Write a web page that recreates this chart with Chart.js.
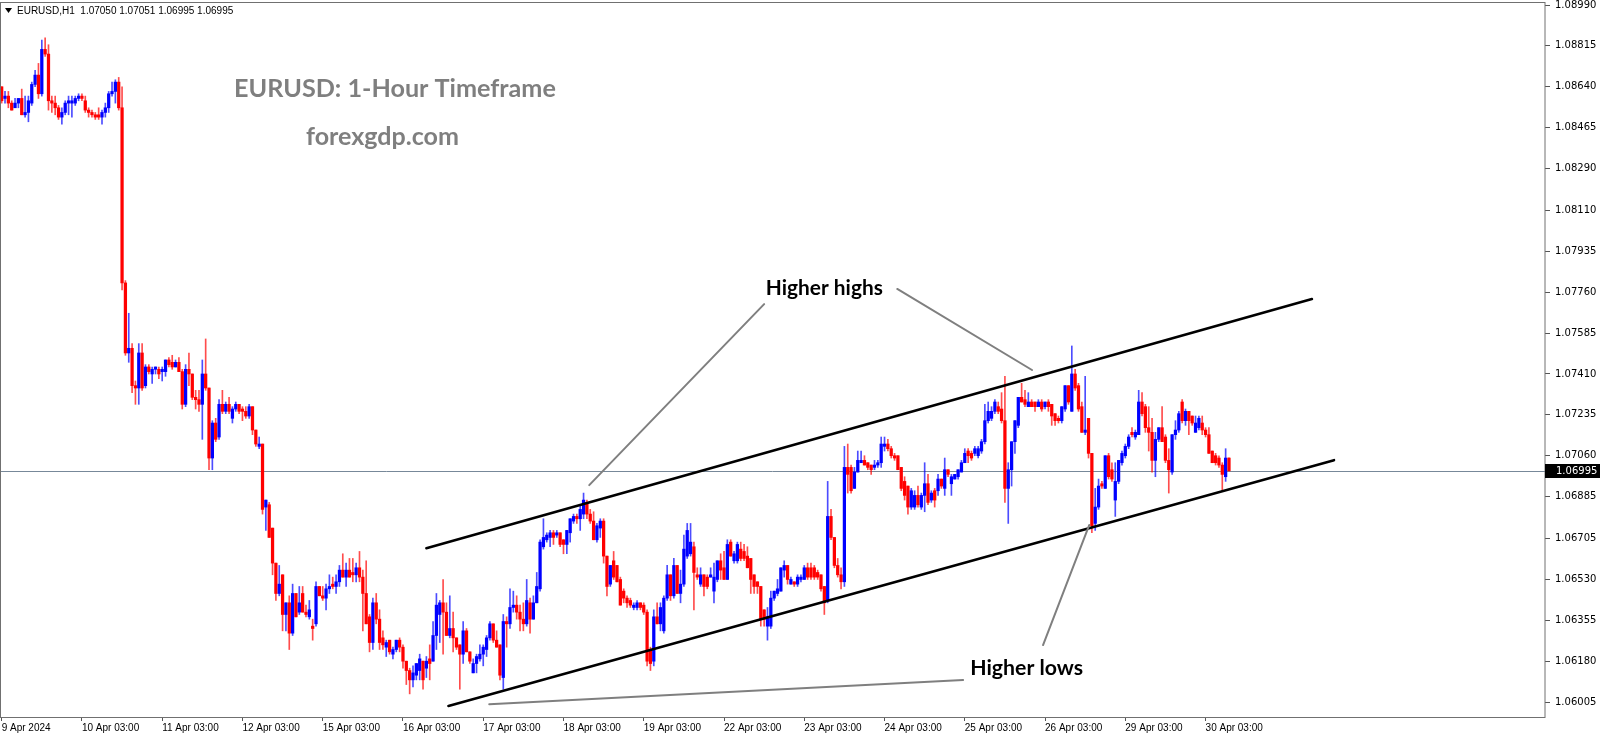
<!DOCTYPE html>
<html>
<head>
<meta charset="utf-8">
<script src="https://cdn.jsdelivr.net/npm/chart.js@4.4.1/dist/chart.umd.min.js"></script>
<style>
  html, body { margin: 0; padding: 0; background: #ffffff; }
  canvas { display: block; }
</style>
</head>
<body>
<canvas id="eurusdChart" width="1600" height="738"></canvas>
<script>
// EURUSD H1, 9 Apr 03:00 -> 30 Apr 10:00 (one value per hourly bar)
var opens = [
  1.0864,1.0859,1.0860,1.0857,1.0855,1.0857,1.0859,1.0852,1.0853,1.0857,1.0865,1.0869,
  1.0861,1.0880,1.0878,1.0858,1.0857,1.0855,1.0851,1.0853,1.0857,1.0857,1.0857,1.0859,
  1.0860,1.0858,1.0854,1.0853,1.0852,1.0852,1.0851,1.0853,1.0855,1.0861,1.0862,1.0866,
  1.0855,1.0780,1.0750,1.0752,1.0736,1.0735,1.0750,1.0736,1.0744,1.0741,1.0743,1.0743,
  1.0742,1.0742,1.0747,1.0746,1.0744,1.0746,1.0742,1.0728,1.0743,1.0741,1.0731,1.0730,
  1.0728,1.0741,1.0735,1.0705,1.0720,1.0714,1.0728,1.0725,1.0728,1.0722,1.0726,1.0728,
  1.0726,1.0725,1.0723,1.0727,1.0717,1.0710,1.0711,1.0684,1.0685,1.0675,1.0660,1.0647,
  1.0655,1.0638,1.0643,1.0630,1.0647,1.0639,1.0647,1.0639,1.0637,1.0633,1.0634,1.0650,
  1.0646,1.0645,1.0649,1.0651,1.0650,1.0652,1.0657,1.0654,1.0657,1.0656,1.0655,1.0658,
  1.0654,1.0647,1.0637,1.0626,1.0643,1.0636,1.0628,1.0624,1.0627,1.0621,1.0623,1.0627,
  1.0624,1.0618,1.0614,1.0610,1.0612,1.0614,1.0618,1.0615,1.0619,1.0618,1.0629,1.0638,
  1.0643,1.0639,1.0629,1.0632,1.0628,1.0625,1.0621,1.0631,1.0622,1.0613,1.0617,1.0619,
  1.0621,1.0623,1.0628,1.0634,1.0627,1.0625,1.0611,1.0635,1.0634,1.0641,1.0642,1.0639,
  1.0636,1.0634,1.0643,1.0636,1.0643,1.0649,1.0667,1.0670,1.0671,1.0673,1.0672,1.0673,
  1.0670,1.0668,1.0673,1.0678,1.0680,1.0679,1.0681,1.0686,1.0681,1.0678,1.0670,1.0675,
  1.0678,1.0663,1.0651,1.0661,1.0659,1.0653,1.0648,1.0645,1.0644,1.0641,1.0641,1.0643,
  1.0642,1.0639,1.0623,1.0618,1.0637,1.0634,1.0631,1.0645,1.0655,1.0646,1.0659,1.0647,
  1.0651,1.0663,1.0664,1.0667,1.0655,1.0651,1.0655,1.0654,1.0654,1.0648,1.0653,1.0661,
  1.0658,1.0653,1.0669,1.0661,1.0661,1.0666,1.0665,1.0663,1.0662,1.0655,1.0652,1.0650,
  1.0640,1.0633,1.0633,1.0645,1.0647,1.0648,1.0657,1.0659,1.0651,1.0652,1.0651,1.0653,
  1.0653,1.0658,1.0658,1.0658,1.0656,1.0655,1.0650,1.0644,1.0680,1.0671,1.0659,1.0655,
  1.0652,1.0701,1.0701,1.0692,1.0699,1.0703,1.0704,1.0703,1.0702,1.0701,1.0702,1.0703,
  1.0710,1.0711,1.0709,1.0706,1.0706,1.0701,1.0695,1.0693,1.0684,1.0684,1.0689,1.0684,
  1.0689,1.0694,1.0687,1.0691,1.0691,1.0696,1.0692,1.0700,1.0694,1.0696,1.0697,1.0699,
  1.0703,1.0708,1.0707,1.0707,1.0706,1.0708,1.0712,1.0721,1.0722,1.0725,1.0727,1.0726,
  1.0721,1.0692,1.0700,1.0712,1.0719,1.0731,1.0730,1.0727,1.0729,1.0729,1.0727,1.0729,
  1.0727,1.0729,1.0728,1.0724,1.0722,1.0721,1.0726,1.0736,1.0725,1.0741,1.0736,1.0727,
  1.0716,1.0722,1.0707,1.0677,1.0684,1.0694,1.0692,1.0706,1.0700,1.0687,1.0695,1.0703,
  1.0706,1.0710,1.0716,1.0714,1.0715,1.0729,1.0727,1.0718,1.0716,1.0704,1.0713,1.0718,
  1.0714,1.0704,1.0699,1.0715,1.0717,1.0729,1.0721,1.0725,1.0723,1.0716,1.0718,1.0720,
  1.0717,1.0715,1.0708,1.0706,1.0705,1.0702,1.0697,1.07050
];
var highs = [
  1.0864,1.0862,1.0862,1.0858,1.0859,1.0859,1.0863,1.0860,1.0860,1.0866,1.0871,1.0874,
  1.0884,1.0885,1.0882,1.0860,1.0860,1.0856,1.0855,1.0858,1.0860,1.0860,1.0860,1.0861,
  1.0861,1.0860,1.0855,1.0854,1.0853,1.0855,1.0854,1.0857,1.0862,1.0866,1.0867,1.0868,
  1.0864,1.0781,1.0767,1.0754,1.0738,1.0754,1.0754,1.0745,1.0745,1.0744,1.0744,1.0744,
  1.0744,1.0747,1.0748,1.0749,1.0747,1.0748,1.0743,1.0745,1.0750,1.0741,1.0734,1.0734,
  1.0747,1.0756,1.0735,1.0721,1.0722,1.0730,1.0734,1.0729,1.0731,1.0727,1.0729,1.0728,
  1.0727,1.0727,1.0728,1.0727,1.0717,1.0714,1.0711,1.0687,1.0686,1.0675,1.0660,1.0659,
  1.0655,1.0643,1.0646,1.0651,1.0647,1.0650,1.0650,1.0642,1.0644,1.0636,1.0652,1.0650,
  1.0650,1.0651,1.0655,1.0654,1.0655,1.0659,1.0664,1.0660,1.0662,1.0662,1.0660,1.0665,
  1.0657,1.0661,1.0638,1.0645,1.0647,1.0640,1.0631,1.0627,1.0627,1.0624,1.0627,1.0628,
  1.0625,1.0618,1.0615,1.0616,1.0617,1.0621,1.0618,1.0620,1.0625,1.0635,1.0647,1.0644,
  1.0653,1.0643,1.0646,1.0639,1.0628,1.0625,1.0635,1.0632,1.0622,1.0619,1.0621,1.0625,
  1.0625,1.0629,1.0635,1.0634,1.0631,1.0625,1.0638,1.0637,1.0649,1.0648,1.0646,1.0642,
  1.0643,1.0653,1.0645,1.0646,1.0656,1.0670,1.0679,1.0673,1.0674,1.0674,1.0674,1.0673,
  1.0670,1.0674,1.0679,1.0681,1.0681,1.0685,1.0690,1.0687,1.0683,1.0682,1.0677,1.0679,
  1.0679,1.0663,1.0659,1.0665,1.0659,1.0654,1.0649,1.0646,1.0645,1.0643,1.0644,1.0643,
  1.0643,1.0640,1.0624,1.0640,1.0643,1.0643,1.0646,1.0659,1.0655,1.0662,1.0659,1.0657,
  1.0672,1.0677,1.0677,1.0669,1.0658,1.0658,1.0655,1.0655,1.0658,1.0660,1.0661,1.0664,
  1.0665,1.0670,1.0670,1.0665,1.0669,1.0669,1.0668,1.0667,1.0662,1.0655,1.0652,1.0650,
  1.0640,1.0641,1.0648,1.0648,1.0653,1.0658,1.0661,1.0659,1.0654,1.0652,1.0655,1.0655,
  1.0659,1.0660,1.0660,1.0659,1.0657,1.0655,1.0650,1.0695,1.0683,1.0671,1.0662,1.0658,
  1.0710,1.0711,1.0702,1.0701,1.0708,1.0708,1.0706,1.0703,1.0702,1.0704,1.0704,1.0714,
  1.0714,1.0713,1.0710,1.0707,1.0706,1.0701,1.0697,1.0693,1.0692,1.0691,1.0693,1.0690,
  1.0703,1.0698,1.0691,1.0692,1.0698,1.0696,1.0705,1.0700,1.0698,1.0698,1.0700,1.0704,
  1.0709,1.0709,1.0708,1.0710,1.0710,1.0713,1.0728,1.0729,1.0727,1.0730,1.0729,1.0733,
  1.0740,1.0703,1.0712,1.0721,1.0731,1.0737,1.0734,1.0733,1.0730,1.0729,1.0730,1.0730,
  1.0729,1.0730,1.0728,1.0724,1.0723,1.0727,1.0736,1.0736,1.0753,1.0743,1.0737,1.0729,
  1.0740,1.0722,1.0707,1.0692,1.0696,1.0695,1.0706,1.0707,1.0703,1.0703,1.0704,1.0708,
  1.0711,1.0715,1.0718,1.0717,1.0734,1.0733,1.0728,1.0727,1.0722,1.0716,1.0718,1.0727,
  1.0715,1.0709,1.0715,1.0721,1.0725,1.0730,1.0726,1.0725,1.0723,1.0723,1.0723,1.0723,
  1.0718,1.0718,1.0708,1.0707,1.0706,1.0703,1.0709,1.07051
];
var lows = [
  1.0857,1.0857,1.0855,1.0854,1.0855,1.0855,1.0852,1.0851,1.0849,1.0856,1.0864,1.0859,
  1.0860,1.0877,1.0854,1.0853,1.0852,1.0850,1.0848,1.0852,1.0852,1.0851,1.0856,1.0858,
  1.0858,1.0853,1.0851,1.0851,1.0850,1.0850,1.0848,1.0851,1.0853,1.0860,1.0857,1.0854,
  1.0777,1.0749,1.0746,1.0733,1.0728,1.0728,1.0734,1.0735,1.0741,1.0737,1.0741,1.0739,
  1.0738,1.0740,1.0744,1.0743,1.0744,1.0742,1.0726,1.0727,1.0736,1.0730,1.0726,1.0725,
  1.0713,1.0734,1.0700,1.0700,1.0712,1.0713,1.0724,1.0724,1.0724,1.0720,1.0725,1.0724,
  1.0721,1.0722,1.0722,1.0715,1.0710,1.0709,1.0681,1.0674,1.0671,1.0655,1.0644,1.0646,
  1.0631,1.0631,1.0623,1.0629,1.0637,1.0638,1.0639,1.0637,1.0636,1.0627,1.0633,1.0646,
  1.0644,1.0640,1.0647,1.0649,1.0647,1.0650,1.0654,1.0650,1.0654,1.0652,1.0652,1.0652,
  1.0631,1.0634,1.0622,1.0623,1.0634,1.0623,1.0623,1.0620,1.0621,1.0619,1.0622,1.0622,
  1.0615,1.0608,1.0604,1.0607,1.0610,1.0610,1.0606,1.0611,1.0610,1.0618,1.0623,1.0626,
  1.0621,1.0629,1.0628,1.0622,1.0623,1.0606,1.0617,1.0622,1.0617,1.0613,1.0613,1.0618,
  1.0616,1.0620,1.0627,1.0626,1.0624,1.0610,1.0606,1.0624,1.0632,1.0639,1.0636,1.0631,
  1.0631,1.0633,1.0630,1.0636,1.0643,1.0648,1.0666,1.0669,1.0667,1.0668,1.0671,1.0667,
  1.0664,1.0664,1.0669,1.0677,1.0677,1.0674,1.0679,1.0679,1.0677,1.0670,1.0669,1.0671,
  1.0660,1.0646,1.0650,1.0653,1.0652,1.0642,1.0643,1.0641,1.0641,1.0640,1.0640,1.0640,
  1.0638,1.0616,1.0614,1.0616,1.0634,1.0631,1.0630,1.0644,1.0644,1.0645,1.0647,1.0643,
  1.0650,1.0662,1.0663,1.0640,1.0653,1.0650,1.0646,1.0649,1.0654,1.0643,1.0652,1.0653,
  1.0653,1.0653,1.0663,1.0660,1.0660,1.0661,1.0661,1.0658,1.0647,1.0647,1.0647,1.0633,
  1.0633,1.0627,1.0632,1.0644,1.0646,1.0648,1.0654,1.0651,1.0651,1.0650,1.0650,1.0652,
  1.0653,1.0653,1.0653,1.0653,1.0653,1.0648,1.0638,1.0643,1.0670,1.0658,1.0654,1.0649,
  1.0650,1.0690,1.0690,1.0692,1.0699,1.0703,1.0702,1.0700,1.0698,1.0700,1.0701,1.0701,
  1.0708,1.0708,1.0705,1.0704,1.0700,1.0691,1.0687,1.0681,1.0683,1.0683,1.0684,1.0683,
  1.0682,1.0685,1.0686,1.0684,1.0689,1.0692,1.0689,1.0697,1.0689,1.0696,1.0696,1.0699,
  1.0703,1.0703,1.0704,1.0706,1.0705,1.0707,1.0711,1.0720,1.0721,1.0724,1.0724,1.0720,
  1.0686,1.0677,1.0693,1.0707,1.0718,1.0729,1.0727,1.0727,1.0727,1.0725,1.0727,1.0725,
  1.0726,1.0725,1.0719,1.0719,1.0720,1.0720,1.0725,1.0728,1.0725,1.0734,1.0725,1.0716,
  1.0715,1.0705,1.0673,1.0674,1.0683,1.0692,1.0692,1.0696,1.0695,1.0680,1.0694,1.0702,
  1.0705,1.0709,1.0714,1.0713,1.0715,1.0723,1.0716,1.0708,1.0699,1.0697,1.0712,1.0712,
  1.0703,1.0690,1.0698,1.0713,1.0716,1.0720,1.0719,1.0715,1.0719,1.0716,1.0717,1.0715,
  1.0714,1.0707,1.0703,1.0702,1.0701,1.0691,1.0695,1.06995
];
var closes = [
  1.0858,1.0860,1.0857,1.0854,1.0857,1.0859,1.0852,1.0853,1.0858,1.0865,1.0869,1.0861,
  1.0880,1.0878,1.0858,1.0857,1.0855,1.0851,1.0853,1.0857,1.0858,1.0858,1.0859,1.0860,
  1.0859,1.0854,1.0853,1.0852,1.0851,1.0851,1.0853,1.0855,1.0861,1.0862,1.0866,1.0855,
  1.0780,1.0750,1.0752,1.0736,1.0735,1.0750,1.0735,1.0744,1.0742,1.0743,1.0744,1.0741,
  1.0743,1.0747,1.0745,1.0744,1.0746,1.0742,1.0728,1.0743,1.0741,1.0731,1.0730,1.0728,
  1.0741,1.0735,1.0705,1.0720,1.0713,1.0728,1.0725,1.0728,1.0725,1.0726,1.0728,1.0725,
  1.0725,1.0723,1.0727,1.0717,1.0711,1.0711,1.0683,1.0687,1.0671,1.0660,1.0647,1.0651,
  1.0638,1.0643,1.0630,1.0647,1.0637,1.0643,1.0639,1.0638,1.0640,1.0632,1.0650,1.0646,
  1.0645,1.0649,1.0650,1.0650,1.0652,1.0657,1.0654,1.0657,1.0654,1.0655,1.0658,1.0654,
  1.0647,1.0634,1.0626,1.0643,1.0636,1.0626,1.0625,1.0626,1.0622,1.0623,1.0627,1.0624,
  1.0618,1.0614,1.0610,1.0613,1.0617,1.0619,1.0610,1.0618,1.0617,1.0629,1.0642,1.0643,
  1.0639,1.0629,1.0632,1.0628,1.0624,1.0621,1.0631,1.0622,1.0618,1.0617,1.0620,1.0621,
  1.0624,1.0628,1.0634,1.0627,1.0624,1.0612,1.0635,1.0634,1.0641,1.0642,1.0639,1.0636,
  1.0634,1.0644,1.0636,1.0643,1.0650,1.0669,1.0671,1.0672,1.0673,1.0671,1.0673,1.0668,
  1.0668,1.0674,1.0679,1.0680,1.0679,1.0683,1.0687,1.0681,1.0678,1.0670,1.0676,1.0678,
  1.0663,1.0650,1.0659,1.0654,1.0652,1.0642,1.0645,1.0643,1.0642,1.0642,1.0643,1.0641,
  1.0639,1.0618,1.0617,1.0637,1.0634,1.0641,1.0645,1.0655,1.0646,1.0659,1.0647,1.0651,
  1.0666,1.0674,1.0669,1.0656,1.0654,1.0655,1.0650,1.0650,1.0655,1.0654,1.0661,1.0657,
  1.0653,1.0668,1.0663,1.0664,1.0668,1.0662,1.0662,1.0658,1.0653,1.0650,1.0650,1.0636,
  1.0636,1.0637,1.0645,1.0648,1.0649,1.0658,1.0659,1.0653,1.0653,1.0651,1.0654,1.0654,
  1.0658,1.0654,1.0654,1.0654,1.0654,1.0649,1.0643,1.0680,1.0671,1.0659,1.0655,1.0652,
  1.0701,1.0698,1.0691,1.0699,1.0704,1.0704,1.0702,1.0701,1.0700,1.0702,1.0703,1.0711,
  1.0711,1.0709,1.0706,1.0705,1.0700,1.0692,1.0689,1.0684,1.0691,1.0689,1.0685,1.0689,
  1.0694,1.0686,1.0690,1.0687,1.0696,1.0693,1.0700,1.0698,1.0697,1.0698,1.0700,1.0703,
  1.0707,1.0706,1.0705,1.0709,1.0709,1.0712,1.0721,1.0725,1.0725,1.0729,1.0725,1.0721,
  1.0692,1.0700,1.0712,1.0721,1.0731,1.0729,1.0728,1.0729,1.0727,1.0727,1.0729,1.0726,
  1.0729,1.0727,1.0723,1.0721,1.0721,1.0727,1.0736,1.0729,1.0741,1.0735,1.0726,1.0716,
  1.0717,1.0707,1.0676,1.0684,1.0693,1.0693,1.0706,1.0697,1.0696,1.0695,1.0704,1.0707,
  1.0710,1.0714,1.0715,1.0716,1.0729,1.0724,1.0718,1.0716,1.0704,1.0713,1.0718,1.0712,
  1.0704,1.0700,1.0715,1.0717,1.0724,1.0721,1.0725,1.0721,1.0720,1.0720,1.0722,1.0717,
  1.0715,1.0707,1.0703,1.0703,1.0702,1.0698,1.0705,1.06995
];

// bottom axis labels, one every 24 bars
var tickLabels = ["9 Apr 2024", "10 Apr 03:00", "11 Apr 03:00", "12 Apr 03:00", "15 Apr 03:00",
  "16 Apr 03:00", "17 Apr 03:00", "18 Apr 03:00", "19 Apr 03:00", "22 Apr 03:00", "23 Apr 03:00",
  "24 Apr 03:00", "25 Apr 03:00", "26 Apr 03:00", "29 Apr 03:00", "30 Apr 03:00"];
var priceTicks = [1.08990, 1.08815, 1.08640, 1.08465, 1.08290, 1.08110, 1.07935, 1.07760, 1.07585,
  1.07410, 1.07235, 1.07060, 1.06885, 1.06705, 1.06530, 1.06355, 1.06180, 1.06005];

// drawn objects, in (bar index, price)
var channelLines = [
  [127.0, 1.06664, 391.8, 1.07731],
  [133.6, 1.05988, 398.4, 1.07041]
];
var pointerLines = [
  [228.0, 1.07709, 175.7, 1.06934],
  [267.8, 1.07774, 308.1, 1.07427],
  [311.4, 1.06249, 325.2, 1.06763],
  [287.5, 1.06099, 145.8, 1.05996]
];
var notes = [
  {text: "Higher highs", bar: 246.0, price: 1.07748, width: 117},
  {text: "Higher lows", bar: 306.5, price: 1.06120, width: 113}
];

var barsPerLabel = 24;
var totalSlots = 462; // chart shifted: empty space right of last bar
var slotLabels = [];
for (var i = 0; i < totalSlots; i++) {
  var k = i / barsPerLabel;
  slotLabels.push(i % barsPerLabel === 0 && k < tickLabels.length ? tickLabels[k] : "");
}

var bodies = [];
var wicks = [];
for (var i = 0; i < closes.length; i++) {
  bodies.push([opens[i], closes[i]]);
  wicks.push([lows[i], highs[i]]);
}
function isUp(i) { return closes[i] >= opens[i]; }

var last = closes.length - 1;
var bidPrice = closes[last];

function fitFont(ctx, text, weight, family, targetW) {
  ctx.font = weight + " 40px " + family;
  var w = ctx.measureText(text).width;
  var size = 40 * targetW / w;
  ctx.font = weight + " " + size.toFixed(2) + "px " + family;
}

const bgPlugin = {
    id: 'white_bg',
    beforeDraw: (chart) => {
        const {ctx} = chart;
        ctx.save();
        ctx.fillStyle = '#ffffff';
        ctx.fillRect(0, 0, chart.width, chart.height);
        ctx.restore();
    },
    beforeDatasetsDraw: (chart) => {
        const {ctx, chartArea, scales} = chart;
        const y = Math.round(scales.y.getPixelForValue(bidPrice)) + 0.5;
        ctx.save();
        ctx.strokeStyle = 'rgb(119,136,153)';
        ctx.lineWidth = 1;
        ctx.beginPath();
        ctx.moveTo(chartArea.left, y);
        ctx.lineTo(chartArea.right, y);
        ctx.stroke();
        ctx.restore();
    }
};

const drawingsPlugin = {
    id: 'drawings',
    afterDatasetsDraw: (chart) => {
        const {ctx, scales} = chart;
        const xs = scales.x, ys = scales.y;
        ctx.save();
        ctx.lineCap = 'round';
        ctx.strokeStyle = '#000000';
        ctx.lineWidth = 2.6;
        channelLines.forEach(function (l) {
            ctx.beginPath();
            ctx.moveTo(xs.getPixelForValue(l[0]), ys.getPixelForValue(l[1]));
            ctx.lineTo(xs.getPixelForValue(l[2]), ys.getPixelForValue(l[3]));
            ctx.stroke();
        });
        ctx.strokeStyle = '#7f7f7f';
        ctx.lineWidth = 2;
        pointerLines.forEach(function (l) {
            ctx.beginPath();
            ctx.moveTo(xs.getPixelForValue(l[0]), ys.getPixelForValue(l[1]));
            ctx.lineTo(xs.getPixelForValue(l[2]), ys.getPixelForValue(l[3]));
            ctx.stroke();
        });
        ctx.fillStyle = '#000000';
        ctx.textAlign = 'center';
        ctx.textBaseline = 'alphabetic';
        notes.forEach(function (n) {
            fitFont(ctx, n.text, 'bold', 'Lato', n.width);
            ctx.fillText(n.text, xs.getPixelForValue(n.bar), ys.getPixelForValue(n.price));
        });
        ctx.restore();
    },
    afterDraw: (chart) => {
        const {ctx, chartArea, scales} = chart;
        ctx.save();
        // frame
        ctx.strokeStyle = '#707070';
        ctx.lineWidth = 1;
        ctx.strokeRect(chartArea.left + 0.5, chartArea.top + 0.5,
            chartArea.right - chartArea.left - 0.5, chartArea.bottom - chartArea.top);

        // header line
        ctx.fillStyle = '#000000';
        ctx.beginPath();
        ctx.moveTo(5, 8); ctx.lineTo(12, 8); ctx.lineTo(8.5, 13); ctx.closePath();
        ctx.fill();
        ctx.font = '10px "Liberation Sans"';
        ctx.textBaseline = 'middle';
        ctx.textAlign = 'left';
        ctx.fillText('EURUSD,H1  ' + opens[last].toFixed(5) + ' ' + highs[last].toFixed(5) + ' ' +
            lows[last].toFixed(5) + ' ' + closes[last].toFixed(5), 17, 11);

        // titles
        ctx.fillStyle = '#7f7f7f';
        ctx.textBaseline = 'alphabetic';
        fitFont(ctx, 'EURUSD: 1-Hour Timeframe', 'bold', 'Lato', 322);
        ctx.fillText('EURUSD: 1-Hour Timeframe', 234, 97);
        fitFont(ctx, 'forexgdp.com', 'bold', 'Lato', 153);
        ctx.fillText('forexgdp.com', 306, 145);

        // bid price box
        const y = Math.round(scales.y.getPixelForValue(bidPrice));
        ctx.fillStyle = '#000000';
        ctx.fillRect(chartArea.right, y - 7, chart.width - chartArea.right, 14);
        ctx.fillStyle = '#ffffff';
        ctx.font = '10px "DejaVu Sans"';
        ctx.textBaseline = 'middle';
        ctx.fillText(bidPrice.toFixed(5), chartArea.right + 11, y + 0.5);
        ctx.restore();
    }
};

new Chart("eurusdChart", {
    type: "bar",
    plugins: [bgPlugin, drawingsPlugin],
    data: {
        labels: slotLabels,
        datasets: [{
            label: "body",
            data: bodies,
            order: 0,
            grouped: false,
            barThickness: 2.6,
            minBarLength: 1,
            backgroundColor: (c) => isUp(c.dataIndex) ? '#0000ff' : '#ff0000',
            borderWidth: 0
        }, {
            label: "wick",
            data: wicks,
            order: 1,
            grouped: false,
            barThickness: 1,
            backgroundColor: (c) => isUp(c.dataIndex) ? 'rgba(0,0,255,0.7)' : 'rgba(255,0,0,0.7)',
            borderWidth: 0
        }]
    },
    options: {
        responsive: false,
        animation: false,
        layout: { padding: { top: 2, left: 0, right: 0, bottom: 0 } },
        plugins: {
            legend: { display: false },
            tooltip: { enabled: false }
        },
        scales: {
            x: {
                type: 'category',
                offset: true,
                grid: {
                    offset: false,
                    drawOnChartArea: false,
                    tickLength: 4,
                    tickColor: (c) => (c.tick && c.tick.label) ? '#555555' : 'rgba(0,0,0,0)'
                },
                border: { display: false },
                ticks: {
                    autoSkip: false,
                    maxRotation: 0,
                    minRotation: 0,
                    align: 'start',
                    padding: 1,
                    color: '#000000',
                    font: { family: 'Liberation Sans', size: 10 }
                },
                afterFit: (s) => { s.height = 21; s.paddingLeft = 0; s.paddingRight = 0; }
            },
            y: {
                position: 'right',
                min: 1.05941,
                max: 1.09003,
                afterBuildTicks: (s) => { s.ticks = priceTicks.map(v => ({ value: v })); },
                grid: { drawOnChartArea: false, tickLength: 5, color: '#555555' },
                border: { display: false },
                ticks: {
                    callback: (v) => Number(v).toFixed(5),
                    color: '#000000',
                    padding: 5,
                    font: { family: 'DejaVu Sans', size: 10 }
                },
                afterFit: (s) => { s.width = 55; s.paddingTop = 0; s.paddingBottom = 0; }
            }
        }
    }
});
</script>
</body>
</html>
